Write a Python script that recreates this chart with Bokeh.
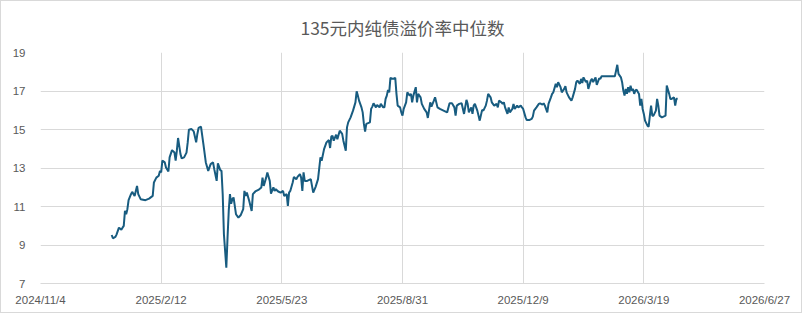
import pandas as pd
from bokeh.plotting import figure
from bokeh.models import FixedTicker, CustomJSTickFormatter, Range1d
from bokeh.embed import file_html
from bokeh.resources import INLINE

title_text = "135元内纯债溢价率中位数"
start_date = "2024-11-04"

days_from_start = [
    59, 60, 62, 63, 65, 67, 68, 69, 70, 71, 72, 73, 75, 76, 78, 80, 81, 83, 87, 90,
    93, 94, 96, 98, 99, 100, 101, 103, 104, 106, 107, 109, 111, 112, 113, 114, 116, 117, 119, 121,
    122, 123, 125, 127, 129, 130, 131, 133, 135, 137, 139, 141, 143, 144, 146, 147, 149, 150, 151, 152,
    154, 155, 156, 157, 158, 159, 160, 162, 164, 166, 168, 169, 170, 171, 173, 175, 176, 178, 181, 183,
    184, 185, 187, 188, 190, 191, 193, 194, 195, 197, 199, 201, 202, 204, 205, 206, 207, 209, 210, 212,
    213, 215, 216, 217, 218, 219, 221, 224, 225, 226, 228, 230, 232, 233, 235, 237, 239, 240, 241, 242,
    243, 245, 246, 248, 250, 251, 253, 254, 255, 257, 259, 261, 262, 263, 264, 266, 267, 268, 269, 270,
    271, 273, 274, 275, 276, 278, 279, 281, 282, 284, 285, 286, 287, 288, 289, 290, 292, 294, 295, 296,
    298, 299, 300, 301, 303, 304, 306, 307, 308, 309, 311, 312, 313, 315, 316, 318, 320, 321, 323, 324,
    326, 327, 329, 331, 334, 337, 339, 341, 343, 344, 345, 347, 349, 351, 353, 354, 355, 357, 358, 359,
    360, 362, 363, 364, 366, 367, 369, 370, 371, 373, 374, 376, 378, 379, 380, 382, 383, 384, 385, 387,
    388, 389, 391, 392, 393, 395, 396, 398, 399, 400, 402, 403, 405, 407, 408, 409, 411, 413, 414, 416,
    417, 418, 420, 421, 423, 424, 425, 427, 428, 429, 431, 432, 434, 435, 436, 438, 440, 441, 443, 444,
    445, 447, 448, 449, 450, 452, 453, 454, 456, 457, 458, 460, 461, 463, 464, 465, 471, 476, 477, 478,
    479, 481, 482, 483, 484, 485, 486, 487, 488, 489, 490, 491, 492, 493, 494, 496, 497, 498, 499, 500,
    501, 503, 504, 505, 506, 507, 508, 510, 511, 512, 513, 515, 518, 519, 521, 522, 523, 525, 526, 527,
    528,
]

premium_median = [
    9.52, 9.35, 9.42, 9.54, 9.90, 9.80, 9.90, 9.99, 10.77, 10.60, 10.86, 11.33, 11.64, 11.76, 11.55, 12.07, 11.64, 11.38, 11.33, 11.41,
    11.55, 12.25, 12.50, 12.60, 12.85, 12.77, 13.38, 13.29, 13.03, 12.82, 13.55, 13.93, 13.81, 13.38, 13.90, 14.56, 13.72, 13.50, 13.55, 13.80,
    14.33, 14.99, 15.03, 14.90, 14.33, 14.77, 15.08, 15.15, 14.24, 13.29, 12.85, 13.20, 13.29, 12.94, 12.33, 13.24, 12.89, 12.85, 11.64, 9.56,
    7.82, 9.38, 10.77, 11.64, 11.15, 11.38, 11.47, 10.60, 10.42, 10.56, 10.86, 11.81, 11.55, 11.72, 11.29, 10.77, 11.64, 11.78, 11.88, 11.99,
    12.50, 12.07, 12.50, 12.77, 12.33, 11.67, 11.99, 11.81, 11.90, 11.78, 11.72, 11.81, 11.55, 11.64, 11.03, 11.72, 11.81, 12.25, 12.54, 12.42,
    12.54, 12.68, 12.50, 11.81, 12.77, 12.33, 12.33, 12.42, 12.07, 11.72, 12.02, 12.42, 13.55, 13.38, 13.98, 14.33, 14.45, 14.04, 14.63, 14.68,
    14.42, 14.73, 14.50, 14.94, 14.77, 14.42, 13.90, 15.11, 15.37, 15.63, 15.98, 16.41, 16.98, 16.76, 16.50, 16.15, 15.89, 15.29, 14.89, 15.29,
    15.32, 15.37, 16.07, 16.19, 16.36, 16.15, 16.27, 16.15, 16.33, 16.15, 16.15, 16.59, 16.76, 17.06, 16.93, 17.68, 17.63, 17.68, 16.85, 16.24,
    16.15, 15.89, 15.72, 16.07, 16.41, 16.93, 16.76, 16.85, 16.41, 16.76, 17.20, 16.41, 16.85, 16.67, 16.33, 16.07, 15.89, 15.60, 16.41, 16.19,
    16.50, 16.67, 16.15, 16.07, 15.98, 15.89, 16.36, 16.36, 16.15, 15.72, 16.24, 16.33, 16.36, 15.81, 16.54, 16.33, 15.89, 16.15, 15.81, 16.24,
    16.33, 15.98, 15.72, 15.46, 16.02, 15.98, 16.24, 16.50, 16.85, 16.67, 16.41, 16.24, 16.33, 16.15, 16.50, 16.41, 16.33, 16.41, 16.15, 15.81,
    16.15, 15.89, 16.07, 16.33, 16.07, 16.24, 16.15, 16.24, 16.15, 16.07, 15.63, 15.49, 15.49, 15.55, 15.67, 15.98, 16.15, 16.33, 16.36, 16.29,
    16.36, 16.24, 15.89, 16.33, 16.67, 16.85, 16.93, 17.37, 17.20, 17.46, 17.20, 16.93, 17.11, 17.25, 16.93, 16.67, 16.50, 16.67, 17.11, 17.46,
    17.54, 17.37, 17.63, 17.42, 17.71, 17.46, 17.54, 17.11, 17.54, 17.63, 17.46, 17.71, 17.32, 17.66, 17.63, 17.77, 17.77, 17.77, 18.06, 18.36,
    17.89, 17.71, 17.46, 17.02, 16.76, 17.11, 16.85, 17.20, 16.93, 17.28, 17.02, 17.11, 16.85, 17.02, 17.07, 16.85, 16.24, 16.59, 16.07, 15.81,
    15.46, 15.20, 15.15, 15.72, 16.24, 15.72, 15.72, 15.98, 16.59, 16.24, 15.72, 15.63, 15.72, 17.28, 16.85, 16.59, 16.59, 16.67, 16.24, 16.59,
    16.62,
]

x_tick_dates = ["2024-11-04", "2025-02-12", "2025-05-23", "2025-08-31",
                "2025-12-09", "2026-03-19", "2026-06-27"]
y_ticks = [7, 9, 11, 13, 15, 17, 19]

dates = pd.Timestamp(start_date) + pd.to_timedelta(days_from_start, unit="D")
tick_ms = [pd.Timestamp(d).value // 10**6 for d in x_tick_dates]

p = figure(width=802, height=313, x_axis_type="datetime",
           output_backend="svg", toolbar_location=None,
           x_range=Range1d(tick_ms[0], tick_ms[-1]),
           y_range=Range1d(y_ticks[0], y_ticks[-1]),
           min_border_left=39, min_border_right=39,
           min_border_top=51, min_border_bottom=31)
p.styles = {"border": "1px solid #d9d9d9"}

p.title.text = title_text
p.title.align = "center"
p.title.vertical_align = "top"
p.title.text_font = "Noto Sans CJK SC"
p.title.text_font_size = "17.5px"
p.title.text_font_style = "normal"
p.title.text_color = "#595959"
p.title.standoff = 22

p.outline_line_color = None
p.background_fill_color = "white"
p.border_fill_color = "white"

ticker_x = FixedTicker(ticks=tick_ms)
p.xaxis.ticker = ticker_x
p.xgrid.ticker = ticker_x
p.yaxis.ticker = FixedTicker(ticks=y_ticks)
p.ygrid.ticker = FixedTicker(ticks=y_ticks)
p.xaxis.formatter = CustomJSTickFormatter(code="""
const d = new Date(tick);
return d.getUTCFullYear() + "/" + (d.getUTCMonth() + 1) + "/" + d.getUTCDate();
""")

for g in (p.xgrid, p.ygrid):
    g.grid_line_color = "#d9d9d9"
    g.grid_line_width = 1

for ax in (p.xaxis, p.yaxis):
    ax.major_tick_line_color = None
    ax.minor_tick_line_color = None
    ax.major_label_text_font = "Liberation Sans"
    ax.major_label_text_font_size = "11.5px"
    ax.major_label_text_color = "#595959"
p.xaxis.axis_line_color = "#d9d9d9"
p.yaxis.axis_line_color = None
p.xaxis.major_label_standoff = 4
p.yaxis.major_label_standoff = 9

p.line(dates, premium_median, line_color="#185c80", line_width=2)

open("out.html", "w").write(file_html(p, INLINE))
